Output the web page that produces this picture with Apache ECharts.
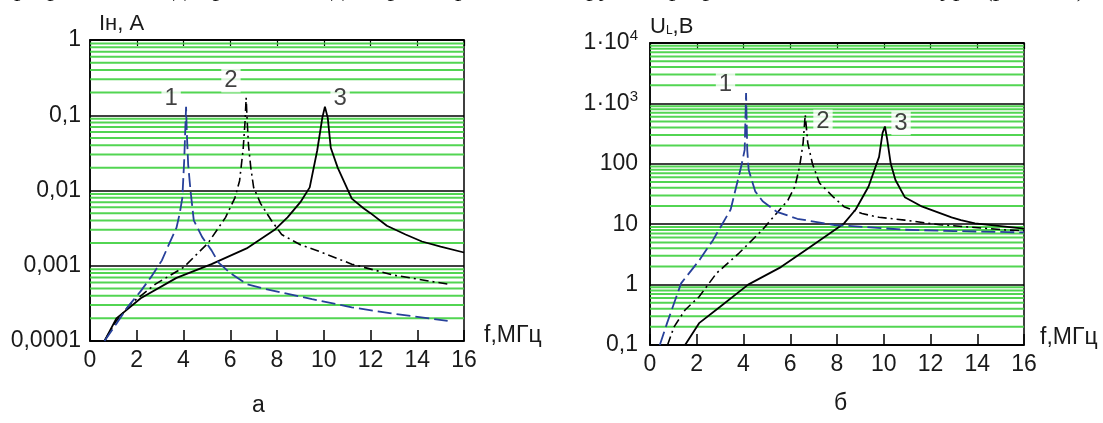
<!DOCTYPE html>
<html><head><meta charset="utf-8">
<script src="https://cdn.jsdelivr.net/npm/echarts@6/dist/echarts.min.js"></script>
<style>html,body{margin:0;padding:0;background:#fff}#c{width:1103px;height:423px}</style>
</head><body><div id="c"></div>
<script>
// ---------- data: left chart (current in load, A) ----------
const fA1 = [0.62, 1.13, 1.6, 2.17, 2.6, 3.07, 3.4, 3.7, 3.84, 3.95, 4.03, 4.08, 4.11, 4.14, 4.2, 4.3, 4.44, 4.8, 5.2, 5.5, 6.0, 6.7, 7.5, 8.2, 9.5, 11.2, 13.0, 15.3];
const iA1 = [1e-4, 1.7e-4, 2.8e-4, 4.6e-4, 7e-4, 1.17e-3, 2e-3, 3.2e-3, 5e-3, 8e-3, 0.025, 0.07, 0.13, 0.06, 0.022, 0.01, 0.004, 0.0024, 0.0016, 0.0011, 8e-4, 5.7e-4, 4.9e-4, 4.4e-4, 3.6e-4, 2.8e-4, 2.3e-4, 1.85e-4];

const fA2 = [0.62, 1.1, 1.73, 2.8, 4.0, 5.05, 5.8, 6.2, 6.4, 6.55, 6.63, 6.68, 6.72, 6.78, 6.88, 7.0, 7.3, 7.76, 8.2, 9.0, 9.7, 11.2, 13.0, 15.3];
const iA2 = [1e-4, 1.8e-4, 3.1e-4, 5.7e-4, 9.5e-4, 0.002, 0.0044, 0.008, 0.0135, 0.035, 0.08, 0.17, 0.09, 0.04, 0.02, 0.011, 0.0067, 0.004, 0.0026, 0.0019, 0.0016, 0.00105, 7.5e-4, 5.7e-4];

const fA3 = [0.62, 1.13, 2.17, 3.7, 5.2, 6.7, 7.9, 8.45, 9.0, 9.4, 9.72, 9.94, 10.05, 10.17, 10.3, 10.6, 11.2, 11.7, 12.0, 12.7, 13.5, 14.2, 15.0, 16.0];
const iA3 = [1e-4, 2e-4, 3.7e-4, 6.9e-4, 1.05e-3, 1.7e-3, 3e-3, 4.4e-3, 7e-3, 0.011, 0.034, 0.093, 0.13, 0.093, 0.037, 0.02, 0.0078, 0.0058, 0.005, 0.0034, 0.0026, 0.0021, 0.0018, 0.0015];

// ---------- data: right chart (voltage on L, V) ----------
const fB1 = [0.42, 0.73, 1.33, 2.1, 2.7, 3.45, 3.9, 4.05, 4.11, 4.16, 4.22, 4.5, 4.82, 5.43, 6.3, 7.9, 10.9, 13.0, 15.3, 16.0];
const uB1 = [0.1, 0.23, 1.05, 2.5, 5.5, 17.5, 90, 170, 1480, 170, 80, 35, 24, 16, 12.3, 9.7, 8.1, 7.7, 7.4, 7.3];

const fB2 = [0.75, 1.03, 1.5, 2.1, 2.85, 3.8, 4.8, 5.9, 6.2, 6.4, 6.55, 6.64, 6.75, 6.95, 7.25, 7.85, 8.3, 9.07, 9.8, 10.9, 12.4, 15.3, 16.0];
const uB2 = [0.1, 0.2, 0.38, 0.63, 1.55, 3.3, 8, 25, 42, 90, 220, 650, 220, 100, 48, 28, 19.5, 15, 13, 11.7, 9.8, 8, 7.8];

const fB3 = [1.5, 2.1, 3.0, 4.2, 5.6, 6.65, 7.7, 8.3, 8.8, 9.35, 9.8, 9.95, 10.05, 10.15, 10.3, 10.5, 10.9, 11.65, 12.9, 13.3, 13.9, 15.9, 16.0];
const uB3 = [0.1, 0.23, 0.43, 1.0, 1.95, 3.7, 7.1, 10.3, 17.5, 42, 130, 325, 415, 250, 100, 54, 28, 19.5, 13, 11.7, 10.3, 8.5, 8.4];

// ---------- axes ----------
const freqMin = 0, freqMax = 16, freqStep = 2;
const leftTickExp = [-4, -3, -2, -1, 0];
const leftTickLabels = ['0,0001', '0,001', '0,01', '0,1', '1'];
const rightTickExp = [-1, 0, 1, 2, 3, 4];
const rightTickLabels = ['0,1', '1', '10', '100', '1·10{sup|3}', '1·10{sup|4}'];
const minorMult = [2, 3, 4, 5, 6, 7, 8, 9];

// curve annotations (data coordinates)
const curveNames = ['1', '2', '3'];
const leftNamePos = [[3.47, 0.17], [6.03, 0.29], [10.7, 0.17]];
const rightNamePos = [[3.23, 2030], [7.4, 500], [10.74, 470]];

// ---------------------------------------------------
const FONT = 'Liberation Sans, Arial, sans-serif';
const zip = (a, b) => a.map((v, i) => [v, b[i]]);
function minorVals(exps) {
  const out = [];
  exps.slice(0, -1).forEach(e => minorMult.forEach(m => out.push(m * Math.pow(10, e))));
  return out;
}
function labelFor(exps, labels) {
  return v => {
    const e = Math.round(Math.log10(v));
    const k = exps.indexOf(e);
    return k >= 0 ? labels[k] : '';
  };
}
const GREEN = '#3fd03f';
const BLUE = '#27409a';

function xAxes(gi) {
  return [
    { gridIndex: gi, type: 'value', min: freqMin, max: freqMax, interval: freqStep, position: 'bottom',
      axisLine: { show: true, lineStyle: { color: '#000', width: 1.5 } },
      axisTick: { show: true, inside: true, length: 11, lineStyle: { color: '#000', width: 1.5 } },
      axisLabel: { fontSize: 23, color: '#1a1a1a', fontFamily: FONT, margin: 8 },
      splitLine: { show: false } },
    { gridIndex: gi, type: 'value', min: freqMin, max: freqMax, interval: freqStep, position: 'top',
      axisLine: { show: true, lineStyle: { color: '#000', width: 1.5 } },
      axisTick: { show: true, inside: true, length: 6, lineStyle: { color: '#000', width: 1.2 } },
      axisLabel: { show: false }, splitLine: { show: false } }
  ];
}
function yAxis(gi, exps, labels, margin) {
  return { gridIndex: gi, type: 'log', logBase: 10, min: Math.pow(10, exps[0]), max: Math.pow(10, exps[exps.length - 1]),
    splitNumber: exps.length - 1,
    axisLine: { show: true, lineStyle: { color: '#000', width: 1.5 } },
    axisTick: { show: false },
    axisLabel: { fontSize: 23, color: '#1a1a1a', fontFamily: FONT, margin: margin,
      formatter: labelFor(exps, labels),
      rich: { sup: { fontSize: 15, fontFamily: FONT, color: '#1a1a1a', padding: [0, 0, 14, 0] } } },
    splitLine: { show: true, lineStyle: { color: '#000', width: 1.5 } } };
}
function minorSeries(xi, yi, exps) {
  return minorVals(exps).map(v => ({
    type: 'line', xAxisIndex: xi, yAxisIndex: yi, data: [[freqMin, v], [freqMax, v]],
    silent: true, z: 1, showSymbol: false, symbol: 'none',
    lineStyle: { color: GREEN, width: 2, type: 'solid', opacity: 0.9 } }));
}
function curve(xi, yi, xs, ys, color, type, width) {
  return { type: 'line', xAxisIndex: xi, yAxisIndex: yi, data: zip(xs, ys), showSymbol: false, symbol: 'none',
    smooth: false, z: 3, silent: true,
    lineStyle: { color: color, width: width, type: type, cap: 'butt' } };
}
function nameSeries(xi, yi, pos) {
  return { type: 'scatter', xAxisIndex: xi, yAxisIndex: yi, symbolSize: 0, z: 4, silent: true,
    data: pos.map((p, i) => ({ value: p, name: curveNames[i] })),
    label: { show: true, position: 'inside', formatter: '{b}', fontSize: 24, fontFamily: FONT, color: '#111',
      backgroundColor: '#fff', padding: [0, 3, 0, 3] } };
}

const chart = echarts.init(document.getElementById('c'), null, { renderer: 'canvas' });
chart.setOption({
  backgroundColor: '#fff',
  animation: false,
  grid: [
    { left: 90, top: 40, width: 374, height: 301, show: true, borderColor: '#000', borderWidth: 1.5, backgroundColor: '#fff' },
    { left: 650, top: 43, width: 374, height: 302, show: true, borderColor: '#000', borderWidth: 1.5, backgroundColor: '#fff' }
  ],
  xAxis: [...xAxes(0), ...xAxes(1)],
  yAxis: [yAxis(0, leftTickExp, leftTickLabels, 9), yAxis(1, rightTickExp, rightTickLabels, 12)],
  series: [
    ...minorSeries(0, 0, leftTickExp),
    curve(0, 0, fA3, iA3, '#000', 'solid', 1.8),
    curve(0, 0, fA2, iA2, '#000', [9, 4, 2, 4], 1.6),
    curve(0, 0, fA1, iA1, BLUE, [14, 5], 1.8),
    nameSeries(0, 0, leftNamePos),
    ...minorSeries(2, 1, rightTickExp),
    curve(2, 1, fB3, uB3, '#000', 'solid', 1.8),
    curve(2, 1, fB2, uB2, '#000', [9, 4, 2, 4], 1.6),
    curve(2, 1, fB1, uB1, BLUE, [14, 5], 1.8),
    nameSeries(2, 1, rightNamePos)
  ],
  graphic: [
    { type: 'text', x: 0, y: -24, silent: true,
      style: { text: 'при различных добротностях для трёх вариантов нагрузки при разных частотах контура (рис. 2.3)',
        font: '26px Liberation Serif, Times New Roman, serif', fill: '#111' } },
    { type: 'text', left: 99, top: 13, silent: true,
      style: { text: 'Iн, А', font: '22px ' + FONT, fill: '#1a1a1a' } },
    { type: 'text', left: 650, top: 16, silent: true,
      style: { text: 'U{s|L},В', font: '22px ' + FONT, fill: '#1a1a1a',
        rich: { s: { fontSize: 12, fontFamily: FONT, fill: '#1a1a1a', padding: [7, 0, 0, 0] } } } },
    { type: 'text', left: 484, top: 324, silent: true,
      style: { text: 'f,МГц', font: '23px ' + FONT, fill: '#1a1a1a' } },
    { type: 'text', left: 1040, top: 326, silent: true,
      style: { text: 'f,МГц', font: '23px ' + FONT, fill: '#1a1a1a' } },
    { type: 'text', left: 252, top: 394, silent: true,
      style: { text: 'а', font: '23px ' + FONT, fill: '#1a1a1a' } },
    { type: 'text', left: 834, top: 392, silent: true,
      style: { text: 'б', font: '23px ' + FONT, fill: '#1a1a1a' } }
  ]
});
</script>
</body></html>
